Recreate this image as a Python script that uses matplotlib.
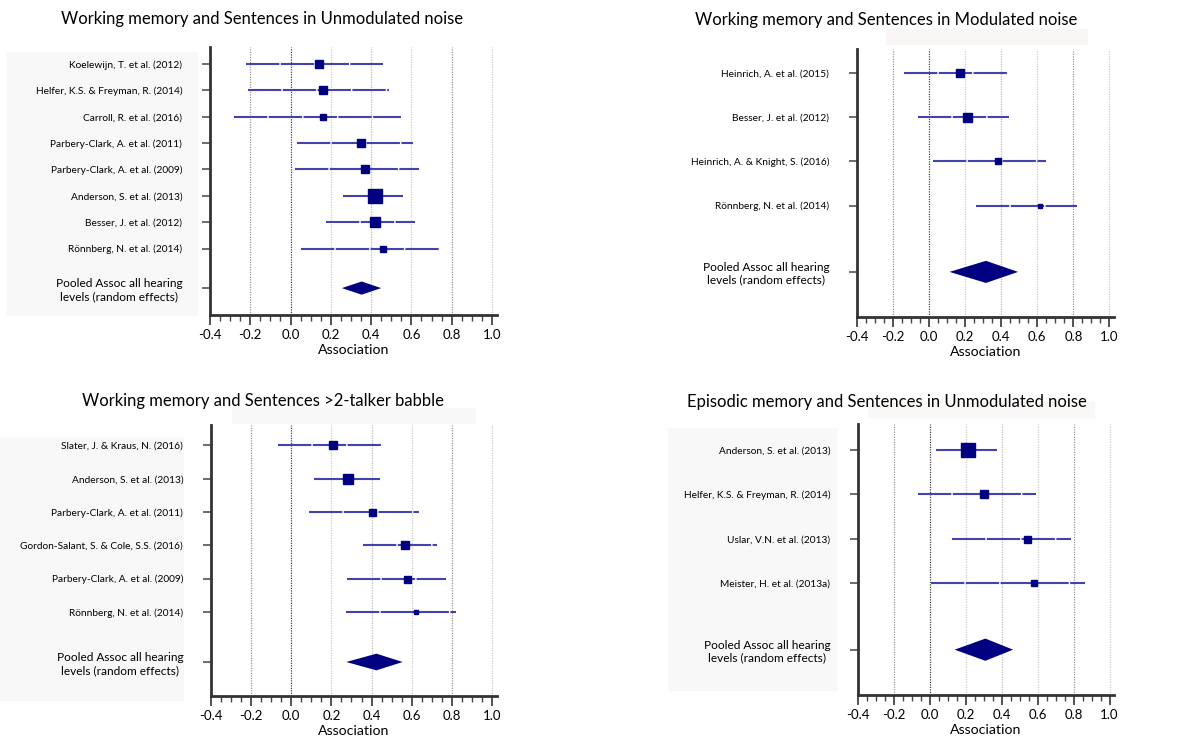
import matplotlib.pyplot as plt
from matplotlib.patches import Rectangle
from matplotlib.ticker import MultipleLocator

plt.rcParams["font.family"] = ["Lato", "DejaVu Sans"]

W, H = 1190, 737
NAVY = "#000080"
CI_BLUE = "#4343ad"

# Working memory / sentences in unmodulated noise
p1_study = ["Koelewijn, T. et al. (2012)", "Helfer, K.S. & Freyman, R. (2014)",
            "Carroll, R. et al. (2016)", "Parbery-Clark, A. et al. (2011)",
            "Parbery-Clark, A. et al. (2009)", "Anderson, S. et al. (2013)",
            "Besser, J. et al. (2012)", "Rönnberg, N. et al. (2014)"]
p1_est = [0.14, 0.16, 0.16, 0.35, 0.37, 0.42, 0.42, 0.46]
p1_lo = [-0.22, -0.21, -0.28, 0.03, 0.02, 0.26, 0.175, 0.05]
p1_hi = [0.46, 0.49, 0.55, 0.61, 0.64, 0.56, 0.62, 0.74]
p1_box = [8, 8.7, 6.7, 8.7, 8, 14.7, 10.7, 6]
p1_pool = (0.353, 0.255, 0.45)

# Working memory / sentences in modulated noise
p2_study = ["Heinrich, A. et al. (2015)", "Besser, J. et al. (2012)",
            "Heinrich, A. & Knight, S. (2016)", "Rönnberg, N. et al. (2014)"]
p2_est = [0.17, 0.21, 0.38, 0.615]
p2_lo = [-0.14, -0.06, 0.02, 0.26]
p2_hi = [0.44, 0.445, 0.65, 0.82]
p2_box = [8, 9, 5.5, 3.5]
p2_pool = (0.315, 0.113, 0.493)

# Working memory / sentences in >2-talker babble
p3_study = ["Slater, J. & Kraus, N. (2016)", "Anderson, S. et al. (2013)",
            "Parbery-Clark, A. et al. (2011)", "Gordon-Salant, S. & Cole, S.S. (2016)",
            "Parbery-Clark, A. et al. (2009)", "Rönnberg, N. et al. (2014)"]
p3_est = [0.21, 0.285, 0.40, 0.567, 0.578, 0.62]
p3_lo = [-0.064, 0.115, 0.09, 0.356, 0.279, 0.274]
p3_hi = [0.447, 0.442, 0.638, 0.725, 0.771, 0.819]
p3_box = [8, 10, 7, 8, 7, 5]
p3_pool = (0.424, 0.274, 0.555)

# Episodic memory / sentences in unmodulated noise
p4_study = ["Anderson, S. et al. (2013)", "Helfer, K.S. & Freyman, R. (2014)",
            "Uslar, V.N. et al. (2013)", "Meister, H. et al. (2013a)"]
p4_est = [0.213, 0.30, 0.538, 0.578]
p4_lo = [0.034, -0.068, 0.124, 0.008]
p4_hi = [0.376, 0.591, 0.786, 0.861]
p4_box = [14.7, 8, 7, 6]
p4_pool = (0.309, 0.138, 0.463)

pool_label = "Pooled Assoc all hearing\nlevels (random effects)"

# axes box (left, top, right, bottom) and title centre, in pixels
panels = [
    ("Working memory and Sentences in Unmodulated noise",
     p1_study, p1_est, p1_lo, p1_hi, p1_box, p1_pool, (210, 47, 497, 315), (262, 19), 0.36),
    ("Working memory and Sentences in Modulated noise",
     p2_study, p2_est, p2_lo, p2_hi, p2_box, p2_pool, (857, 49, 1114, 317), (886, 20), 0.46),
    ("Working memory and Sentences >2-talker babble",
     p3_study, p3_est, p3_lo, p3_hi, p3_box, p3_pool, (211, 425, 497, 696), (263, 401), 0.39),
    ("Episodic memory and Sentences in Unmodulated noise",
     p4_study, p4_est, p4_lo, p4_hi, p4_box, p4_pool, (858, 424, 1114, 695), (887, 402), 0.42),
]

fig = plt.figure(figsize=(W / 100, H / 100), dpi=100)

# pale panels behind the study labels and above some plots
for x0, y0, x1, y1, c in [(7, 52, 197, 315, "#f8f8f8"), (0, 438, 183, 700, "#f8f8f8"),
                          (668, 428, 836, 690, "#f8f8f8"), (886, 29, 1087, 44, "#faf6f6"),
                          (232, 408, 475, 423, "#faf7f7"), (868, 402, 1094, 417, "#faf7f7")]:
    fig.patches.append(Rectangle((x0 / W, 1 - y1 / H), (x1 - x0) / W, (y1 - y0) / H,
                                 transform=fig.transFigure, color=c, zorder=-5))

grid_style = {-0.2: "#999999", 0.0: "#444444", 0.2: "#cccccc", 0.4: "#bbbbbb",
              0.6: "#cccccc", 0.8: "#999999", 1.0: "#cccccc"}

for title, study, est, lo, hi, box, pool, (l, t, r, b), (tx, ty), ytop in panels:
    ax = fig.add_axes([l / W, 1 - b / H, (r - l) / W, (b - t) / H])
    ax.patch.set_alpha(0)
    n = len(study)
    rows = list(range(1, n + 1))
    ypool = n + 1.5

    for gx, gc in grid_style.items():
        ax.axvline(gx, color=gc, lw=0.9, ls=(0, (1, 1)), zorder=1)

    for y, e, a, z, s in zip(rows, est, lo, hi, box):
        ax.plot([a, z], [y, y], color=CI_BLUE, lw=1.5, ls=(0, (16, 0.7)),
                solid_capstyle="butt", zorder=2)
        ax.plot(e, y, marker="s", ms=s * 0.72, color=NAVY, mec=NAVY, zorder=3)

    pe, pl, ph = pool
    ax.fill([pl, pe, ph, pe], [ypool, ypool - 0.25, ypool, ypool + 0.25],
            color=NAVY, lw=0, zorder=3)

    ax.set_xlim(-0.4, 1.025)
    ax.set_ylim(ypool + 1.02, ytop)
    ax.xaxis.set_minor_locator(MultipleLocator(0.05))
    ax.set_xticks([-0.4, -0.2, 0.0, 0.2, 0.4, 0.6, 0.8, 1.0])
    ax.set_xticklabels(["-0.4", "-0.2", "0.0", "0.2", "0.4", "0.6", "0.8", "1.0"])
    ax.tick_params(axis="x", which="major", length=7, width=1.3, color="#444444",
                   labelsize=9.5, pad=3)
    ax.tick_params(axis="x", which="minor", length=4, width=1.0, color="#444444")

    ax.set_yticks(rows + [ypool])
    ax.set_yticklabels(study + [pool_label])
    ax.tick_params(axis="y", length=6, width=1.2, color="#555555", labelsize=7.3, pad=14)
    ax.get_yticklabels()[-1].set_multialignment("center")
    ax.get_yticklabels()[-1].set_fontsize(8.6)

    for side in ("top", "right"):
        ax.spines[side].set_visible(False)
    for side in ("left", "bottom"):
        ax.spines[side].set_linewidth(2)
        ax.spines[side].set_color("#333333")

    ax.set_xlabel("Association", fontsize=10.2, labelpad=2.5)
    fig.text(tx / W, 1 - ty / H, title, ha="center", va="center", fontsize=12)

fig.savefig("out.png", dpi=100)
